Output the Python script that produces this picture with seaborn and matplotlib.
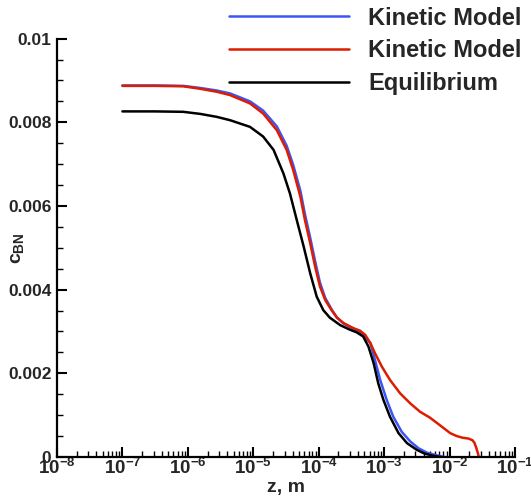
import numpy as np
import pandas as pd
import matplotlib
matplotlib.use("Agg")
import matplotlib.pyplot as plt
import seaborn as sns
from matplotlib.ticker import LogLocator, FixedLocator, FixedFormatter, NullFormatter
from matplotlib.lines import Line2D

# ---------------- data ----------------
# log10(z [m]) and c_BN for each curve
kin1_logz = [-7.00, -6.50, -6.07, -5.81, -5.56, -5.355, -5.05, -4.85, -4.64, -4.49,
             -4.39, -4.28, -4.21, -4.13, -4.055, -3.98, -3.90, -3.80, -3.72, -3.62,
             -3.47, -3.37, -3.32, -3.21, -3.14, -3.06, -2.96, -2.86, -2.73, -2.60,
             -2.475, -2.34, -2.20, -2.07]
kin1_c = [0.00888, 0.00888, 0.00887, 0.00882, 0.00876, 0.00869, 0.00850, 0.00828,
          0.00790, 0.00744, 0.00698, 0.00636, 0.00580, 0.00524, 0.00468, 0.00416,
          0.00380, 0.00352, 0.00333, 0.00319, 0.00306, 0.00299, 0.00292, 0.00272,
          0.00232, 0.00184, 0.00136, 0.00096, 0.00060, 0.00037, 0.00021, 0.00010,
          0.00004, 0.0]

kin2_logz = [-7.00, -6.50, -6.07, -5.81, -5.56, -5.355, -5.05, -4.85, -4.64, -4.49,
             -4.39, -4.28, -4.21, -4.13, -4.055, -3.98, -3.90, -3.80, -3.72, -3.62,
             -3.47, -3.37, -3.29, -3.21, -3.14, -3.035, -2.91, -2.755, -2.60, -2.45,
             -2.30, -2.19, -2.09, -1.99, -1.89, -1.80, -1.71, -1.65, -1.62, -1.59,
             -1.56, -1.555]
kin2_c = [0.00887, 0.00887, 0.00886, 0.00880, 0.00873, 0.00865, 0.00845, 0.00821,
          0.00781, 0.00734, 0.00686, 0.00622, 0.00566, 0.00511, 0.00455, 0.00407,
          0.00375, 0.00350, 0.00333, 0.00320, 0.00308, 0.00302, 0.00292, 0.00272,
          0.00248, 0.00216, 0.00184, 0.00152, 0.00128, 0.00108, 0.00094, 0.00081,
          0.00069, 0.00057, 0.00050, 0.00046, 0.00044, 0.00040, 0.00034, 0.00021,
          0.00005, 0.0]

eq_logz = [-7.00, -6.50, -6.07, -5.81, -5.56, -5.355, -5.05, -4.85, -4.69, -4.54,
           -4.44, -4.335, -4.23, -4.13, -4.03, -3.93, -3.83, -3.67, -3.52, -3.42,
           -3.32, -3.24, -3.16, -3.09, -3.01, -2.91, -2.78, -2.65, -2.50, -2.38,
           -2.25, -2.14]
eq_c = [0.00826, 0.00826, 0.00825, 0.00820, 0.00813, 0.00805, 0.00789, 0.00766,
        0.00734, 0.00678, 0.00630, 0.00566, 0.00503, 0.00439, 0.00383, 0.00351,
        0.00333, 0.00315, 0.00304, 0.00298, 0.00288, 0.00264, 0.00224, 0.00176,
        0.00136, 0.00096, 0.00057, 0.00033, 0.00017, 0.00008, 0.00003, 0.0]

series_labels = ["Kinetic Model", "Kinetic Model", "Equilibrium"]
series_colors = ["#3d55f5", "#dd1c00", "#000000"]

x_tick_exps = [-8, -7, -6, -5, -4, -3, -2, -1]
y_ticks = [0.0, 0.002, 0.004, 0.006, 0.008, 0.01]
y_tick_labels = ["0", "0.002", "0.004", "0.006", "0.008", "0.01"]

# ---------------- style ----------------
sns.set_style("ticks")
plt.rcParams["font.family"] = ["Liberation Sans", "DejaVu Sans"]
plt.rcParams["font.weight"] = "bold"
plt.rcParams["mathtext.fontset"] = "custom"
plt.rcParams["mathtext.rm"] = "Liberation Sans:bold"
plt.rcParams["mathtext.bf"] = "Liberation Sans:bold"
plt.rcParams["mathtext.it"] = "Liberation Sans:bold"
plt.rcParams["mathtext.sf"] = "Liberation Sans:bold"

fig = plt.figure(figsize=(5.31, 4.98), dpi=100)
ax = fig.add_axes([57 / 531, 1 - 457 / 498, (515 - 57) / 531, (457 - 38.6) / 498])

curves = [(kin1_logz, kin1_c), (kin2_logz, kin2_c), (eq_logz, eq_c)]
for (lz, c), lab, col in zip(curves, series_labels, series_colors):
    df = pd.DataFrame({"z": np.power(10.0, lz), "c": c})
    sns.lineplot(data=df, x="z", y="c", color=col, linewidth=1.8,
                 sort=False, estimator=None, ax=ax, legend=False)
for ln in ax.get_lines():
    ln.set_solid_joinstyle("round")
    ln.set_solid_capstyle("round")

ax.set_xscale("log")
ax.set_xlim(1e-8, 1e-1)
ax.set_ylim(0, 0.01)

ax.xaxis.set_major_locator(FixedLocator([10.0 ** e for e in x_tick_exps]))
ax.xaxis.set_major_formatter(FixedFormatter([r"$10^{%d}$" % e for e in x_tick_exps]))
ax.xaxis.set_minor_locator(LogLocator(base=10, subs=np.arange(2, 10), numticks=100))
ax.xaxis.set_minor_formatter(NullFormatter())

ax.yaxis.set_major_locator(FixedLocator(y_ticks))
ax.yaxis.set_major_formatter(FixedFormatter(y_tick_labels))
ax.yaxis.set_minor_locator(FixedLocator(np.arange(0, 0.01001, 0.0005)))

for s in ["top", "right"]:
    ax.spines[s].set_visible(False)
for s in ["left", "bottom"]:
    ax.spines[s].set_linewidth(1.6)
    ax.spines[s].set_color("black")

ax.tick_params(which="major", direction="in", length=7.5, width=1.5,
               labelsize=12.5, color="black", pad=4)
ax.tick_params(which="minor", direction="in", length=4, width=1.0, color="black")
ax.tick_params(axis="x", which="major", labelsize=13.5, pad=1)
for lbl in ax.get_xticklabels() + ax.get_yticklabels():
    lbl.set_fontweight("bold")

ax.set_xlabel("z, m", fontsize=14, fontweight="bold")
ax.xaxis.set_label_coords(0.5, -0.052)
ax.xaxis.label.set_va("top")
ax.set_ylabel(r"$c_{BN}$", fontsize=14)
ax.yaxis.set_label_coords(-0.068, 0.50)

handles = [Line2D([0], [0], color=c, lw=1.8) for c in series_colors]
fig.legend(handles, series_labels, loc="upper left",
           bbox_to_anchor=(229 / 531, 1 - 6.5 / 498), frameon=False,
           prop={"weight": "bold", "size": 17},
           handlelength=5.1, handletextpad=0.8, labelspacing=0.41,
           borderpad=0, borderaxespad=0)

ax.grid(False)
fig.savefig("out.png", dpi=100)
